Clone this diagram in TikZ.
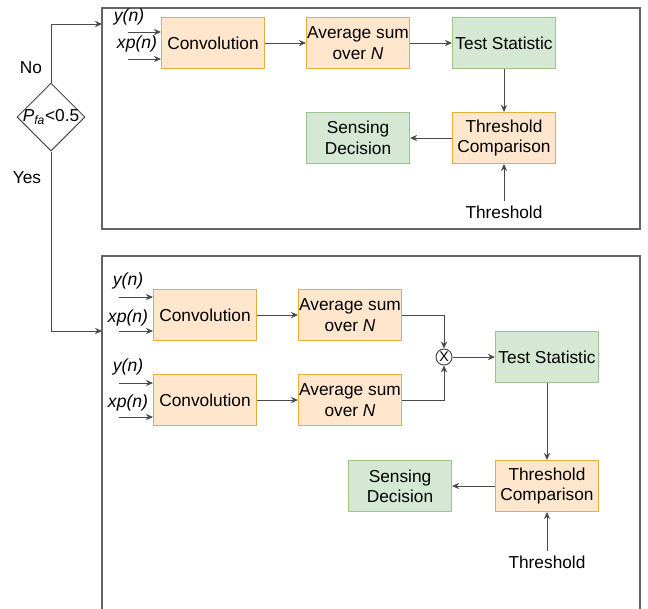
\documentclass[tikz,border=0pt]{standalone}
\usepackage{fontspec}
\setmainfont{Liberation Sans}
\usetikzlibrary{shapes.geometric,arrows.meta}
\definecolor{orfill}{HTML}{FFE6CC}
\definecolor{ordraw}{HTML}{E6AE3C}
\definecolor{grfill}{HTML}{D5E8D4}
\definecolor{grdraw}{HTML}{9CC48E}
\definecolor{linegray}{HTML}{4A4A4A}
\tikzset{
  blk/.style={draw=ordraw,fill=orfill,line width=0.8pt,minimum width=2.575cm,minimum height=1.275cm,align=center,inner xsep=0pt,inner ysep=1pt},
  gblk/.style={blk,draw=grdraw,fill=grfill},
  frame/.style={draw=linegray!85,line width=0.8pt},
  conn/.style={->,draw=linegray,line width=0.7pt},
  inlbl/.style={font=\fontsize{12.5}{14}\selectfont\itshape,inner sep=1pt}
}
\begin{document}
\begin{tikzpicture}[>={Stealth[length=5pt,width=4.5pt]},x=0.025cm,y=-0.025cm,font=\fontsize{12.3}{14.5}\selectfont]
  \useasboundingbox (0,0) rectangle (648,608);
  % Rahmen
  \draw[frame] (102,8) rectangle (640,229);
  \draw[frame] (102,256) rectangle (640,620);
  % Entscheidung
  \node[draw=linegray,diamond,minimum size=1.7cm,inner sep=0,line width=0.7pt] (dec) at (51,117) {};
  \node (dectxt) at (dec) {\textit{P}\textsubscript{\textit{fa}}<0.5};
  \node (no) at (31,68) {No};
  \node (yes) at (27,178) {Yes};
  \coordinate (topin) at (102,24);
  \coordinate (botin) at (102,331);
  \draw[conn] (dec.north) |- (topin);
  \draw[conn] (dec.south) |- (botin);
  % oberer Zweig
  \node[blk] (conv) at (213,43) {Convolution};
  \node[blk] (avg) at (358,43) {Average sum\\over \textit{N}};
  \node[gblk] (test) at (504,43) {Test Statistic};
  \node[blk] (cmp) at (504,138) {Threshold\\Comparison};
  \node[gblk] (sense) at (358,138) {Sensing\\Decision};
  \node (thr) at (504,212) {Threshold};
  \coordinate (ya) at (128,32);
  \coordinate (xa) at (128,59);
  \node[inlbl] (ylbl) at (129,17) {y(n)};
  \node[inlbl] (xlbl) at (137,44) {xp(n)};
  \draw[conn] (ya) -- (ya -| conv.west);
  \draw[conn] (xa) -- (xa -| conv.west);
  \draw[conn] (conv) -- (avg);
  \draw[conn] (avg) -- (test);
  \draw[conn] (test) -- (cmp);
  \draw[conn] (cmp) -- (sense);
  \draw[conn] (thr) -- (cmp);
  % unterer Zweig
  \node[blk] (convA) at (205,315) {Convolution};
  \node[blk] (avgA) at (350,315) {Average sum\\over \textit{N}};
  \node[blk] (convB) at (205,400) {Convolution};
  \node[blk] (avgB) at (350,400) {Average sum\\over \textit{N}};
  \node[draw=linegray,circle,minimum size=0.4cm,inner sep=0,line width=0.7pt,font=\fontsize{10}{12}\selectfont] (mult) at (444,357) {X};
  \node[gblk] (testB) at (547,357) {Test Statistic};
  \node[blk] (cmpB) at (547,486) {Threshold\\Comparison};
  \node[gblk] (senseB) at (400,486) {Sensing\\Decision};
  \node (thrB) at (547,562) {Threshold};
  \coordinate (yA) at (119,297);
  \coordinate (xA) at (119,331);
  \coordinate (yB) at (119,383);
  \coordinate (xB) at (119,417);
  \node[inlbl] (ylblA) at (128,281) {y(n)};
  \node[inlbl] (xlblA) at (128,318) {xp(n)};
  \node[inlbl] (ylblB) at (128,367) {y(n)};
  \node[inlbl] (xlblB) at (128,403) {xp(n)};
  \draw[conn] (yA) -- (yA -| convA.west);
  \draw[conn] (xA) -- (xA -| convA.west);
  \draw[conn] (yB) -- (yB -| convB.west);
  \draw[conn] (xB) -- (xB -| convB.west);
  \draw[conn] (convA) -- (avgA);
  \draw[conn] (convB) -- (avgB);
  \draw[conn] (avgA.east) -| (mult.north);
  \draw[conn] (avgB.east) -| (mult.south);
  \draw[conn] (mult) -- (testB);
  \draw[conn] (testB) -- (cmpB);
  \draw[conn] (cmpB) -- (senseB);
  \draw[conn] (thrB) -- (cmpB);
\end{tikzpicture}
\end{document}
